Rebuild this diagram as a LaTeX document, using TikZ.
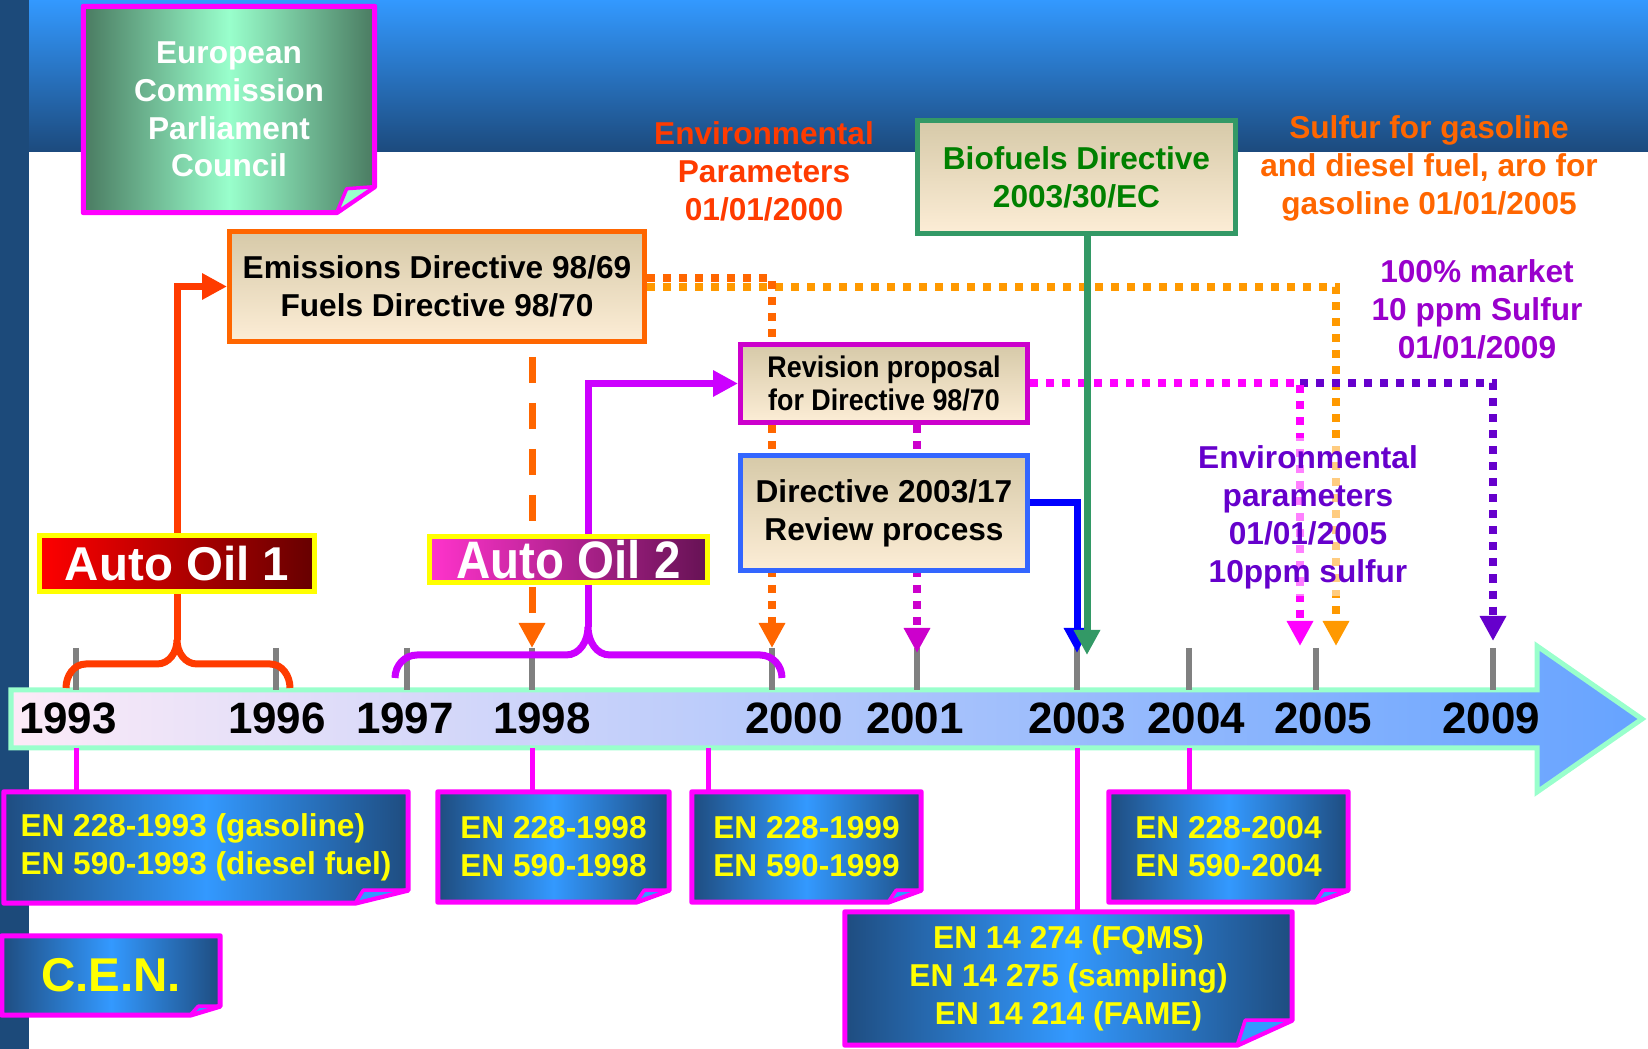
\documentclass[tikz,border=0pt]{standalone}
\usepackage{fontspec}
\setmainfont{Liberation Sans}
\newfontfamily\narrowfont[FakeStretch=0.9]{Liberation Sans}
\usepackage{xcolor}
\usepackage{tikz}
\usetikzlibrary{arrows.meta}
\definecolor{bandtop}{rgb}{0.20,0.60,1.00}
\definecolor{bandbot}{rgb}{0.11,0.29,0.49}
\definecolor{stripnavy}{rgb}{0.11,0.29,0.48}
\definecolor{cenblue}{rgb}{0.20,0.60,1.00}
\definecolor{cendark}{rgb}{0.12,0.30,0.50}
\definecolor{ecdark}{rgb}{0.29,0.48,0.38}
\definecolor{ecmint}{rgb}{0.60,1.00,0.80}
\definecolor{beigetop}{rgb}{0.84,0.79,0.66}
\definecolor{beigebot}{rgb}{0.99,0.93,0.84}
\definecolor{emisorange}{rgb}{1.00,0.40,0.00}
\definecolor{lightorange}{rgb}{1.00,0.60,0.00}
\definecolor{redorange}{rgb}{1.00,0.23,0.00}
\definecolor{pinkmag}{rgb}{1.00,0.00,1.00}
\definecolor{revmagenta}{rgb}{0.80,0.00,0.80}
\definecolor{dirblue}{rgb}{0.20,0.40,1.00}
\definecolor{lineblue}{rgb}{0.00,0.00,1.00}
\definecolor{biogreen}{rgb}{0.20,0.60,0.40}
\definecolor{biotext}{rgb}{0.00,0.50,0.00}
\definecolor{aotwo}{rgb}{0.80,0.00,1.00}
\definecolor{aoyellow}{rgb}{1.00,1.00,0.00}
\definecolor{envviolet}{rgb}{0.40,0.00,0.80}
\definecolor{mktpurple}{rgb}{0.60,0.00,0.80}
\definecolor{shaftleft}{rgb}{0.99,0.92,0.97}
\definecolor{shaftright}{rgb}{0.40,0.64,1.00}
\definecolor{shaftmint}{rgb}{0.60,1.00,0.80}
\definecolor{aoonel}{rgb}{1.00,0.00,0.00}
\definecolor{aooner}{rgb}{0.40,0.00,0.00}
\definecolor{aotwol}{rgb}{1.00,0.20,0.80}
\definecolor{aotwor}{rgb}{0.40,0.07,0.33}
\newcommand{\boxfont}{\fontsize{9}{10.8}\selectfont\bfseries}
\newcommand{\yearfont}{\fontsize{12.5}{14}\selectfont\bfseries}
\pgfdeclarelayer{bg}
\pgfdeclarelayer{lines}
\pgfdeclarelayer{frames}
\pgfsetlayers{bg,lines,frames,main}
\tikzset{
  beigebox/.style={draw,line width=0.05cm,top color=beigetop,bottom color=beigebot,inner sep=0pt,align=center,font=\boxfont},
  aobox/.style={draw=aoyellow,line width=0.05cm,inner sep=0pt,text=white},
  centext/.style={inner sep=0pt,text=aoyellow,align=center,font=\boxfont},
  cenframe/.style={draw=pinkmag,line width=0.05cm,line join=round,left color=cendark,right color=cendark,middle color=cenblue},
  ecframe/.style={draw=pinkmag,line width=0.05cm,line join=round,left color=ecdark,right color=ecdark,middle color=ecmint},
  foldtip/.style={draw=pinkmag,line width=0.035cm,line join=round,fill=cenblue},
  notetext/.style={inner sep=0pt,align=center,font=\boxfont},
  yeartext/.style={anchor=base,inner sep=0pt,font=\yearfont},
  yeartick/.style={draw=gray,line width=0.06cm},
  arrowtip/.style={-{Triangle[length=0.25cm,width=0.25cm]}},
  dotline/.style={line width=0.08cm,dash pattern=on 0.08cm off 0.08cm,arrowtip},
  cenlink/.style={draw=pinkmag,line width=0.05cm}
}

\begin{document}
\begin{tikzpicture}
\useasboundingbox (0,0) rectangle (16.48,-10.49);
\begin{pgfonlayer}{bg}
  \shade[top color=bandtop,bottom color=bandbot] (0.29,0) rectangle (16.48,-1.52);
  \fill[stripnavy] (0,0) rectangle (0.29,-10.49);
  % time axis
  \draw[draw=shaftmint,line width=0.05cm,left color=shaftleft,right color=shaftright]
    (0.11,-6.90) -- (15.37,-6.90) -- (15.37,-6.46) -- (16.42,-7.19) -- (15.37,-7.92) -- (15.37,-7.48) -- (0.11,-7.48) -- cycle;
  \foreach \yr/\tx in {1993/0.76,1996/2.76,1997/4.07,1998/5.32,2000/7.72,2001/9.17,2003/10.77,2004/11.89,2005/13.16,2009/14.93} {
    \coordinate (t\yr) at (\tx,-6.48);
    \coordinate (b\yr) at (\tx,-7.48);
    \draw[yeartick] (t\yr) -- (\tx,-6.90);
  }
  \coordinate (b1999) at (7.08,-7.48);
\end{pgfonlayer}

\foreach \yr/\lx in {1993/0.68,1996/2.77,1997/4.05,1998/5.42,2000/7.94,2001/9.15,2003/10.77,2004/11.96,2005/13.23,2009/14.91}
  \node[yeartext] (y\yr) at (\lx,-7.34) {\yr};

% legislation
\node[inner sep=0pt,minimum width=2.90cm,minimum height=2.05cm,align=center,text=white,font=\fontsize{9}{10.7}\selectfont\bfseries] (ec) at (2.29,-1.095) {European\\Commission\\Parliament\\Council};
\node[beigebox,draw=emisorange,minimum width=4.15cm,minimum height=1.10cm] (emis) at (4.37,-2.865) {Emissions Directive 98/69\\Fuels Directive 98/70};
\node[beigebox,draw=biogreen,text=biotext,minimum width=3.18cm,minimum height=1.13cm] (bio) at (10.765,-1.77) {Biofuels Directive\\2003/30/EC};
\node[beigebox,draw=revmagenta,minimum width=2.87cm,minimum height=0.78cm,font=\narrowfont\fontsize{8.5}{9.2}\selectfont\bfseries] (rev) at (8.84,-3.835) {Revision proposal\\for Directive 98/70};
\node[beigebox,draw=dirblue,minimum width=2.87cm,minimum height=1.15cm] (dir) at (8.84,-5.13) {Directive 2003/17\\Review process};
\node[aobox,left color=aoonel,right color=aooner,minimum width=2.75cm,minimum height=0.56cm,font=\fontsize{13.5}{15}\selectfont\bfseries] (ao1) at (1.77,-5.635) {Auto Oil 1};
\node[aobox,left color=aotwol,right color=aotwor,minimum width=2.78cm,minimum height=0.46cm,font=\narrowfont\fontsize{15}{16}\selectfont\bfseries] (ao2) at (5.685,-5.595) {Auto Oil 2};

\node[notetext,text=redorange] (env2000) at (7.64,-1.71) {Environmental\\Parameters\\01/01/2000};
\node[notetext,text=emisorange] (sulf2005) at (14.29,-1.68) {Sulfur for gasoline\\and diesel fuel, aro for\\gasoline 01/01/2005};
\node[notetext,text=mktpurple] (mkt2009) at (14.77,-3.095) {100\% market\\10 ppm Sulfur\\01/01/2009};
\node[notetext,text=envviolet,fill=white,fill opacity=0.5,text opacity=1,inner sep=2pt] (env2005) at (13.08,-5.17) {Environmental\\parameters\\01/01/2005\\10ppm sulfur};

% standards
\node[centext,minimum width=4.03cm,minimum height=1.10cm,align=left] (cen1) at (2.06,-8.475) {EN 228-1993 (gasoline)\\EN 590-1993 (diesel fuel)};
\node[centext,minimum width=2.30cm,minimum height=1.09cm] (cen2) at (5.535,-8.47) {EN 228-1998\\EN 590-1998};
\node[centext,minimum width=2.28cm,minimum height=1.09cm] (cen3) at (8.065,-8.47) {EN 228-1999\\EN 590-1999};
\node[centext,minimum width=2.38cm,minimum height=1.09cm] (cen4) at (12.285,-8.47) {EN 228-2004\\EN 590-2004};
\node[centext,minimum width=4.46cm,minimum height=1.32cm] (cen5) at (10.685,-9.785) {EN 14 274 (FQMS)\\EN 14 275 (sampling)\\EN 14 214 (FAME)};
\node[centext,minimum width=2.17cm,minimum height=0.78cm,font=\fontsize{13.5}{15}\selectfont\bfseries] (cen) at (1.11,-9.755) {C.E.N.};

\begin{pgfonlayer}{frames}
  \draw[ecframe] (ec.north west) -- (ec.north east) -- ([yshift=0.26cm]ec.south east) -- ([xshift=-0.38cm]ec.south east) -- (ec.south west) -- cycle;
  \draw[foldtip,fill=ecmint] ([xshift=-0.38cm]ec.south east) -- ([xshift=-0.28cm,yshift=0.24cm]ec.south east) -- ([yshift=0.26cm]ec.south east) -- cycle;
  \foreach \b/\fw/\fh in {cen1/0.53/0.13,cen2/0.33/0.12,cen3/0.33/0.12,cen4/0.33/0.12,cen5/0.55/0.25,cen/0.30/0.09} {
    \draw[cenframe] (\b.north west) -- (\b.north east) -- ([yshift=\fh cm]\b.south east) -- ([xshift=-\fw cm]\b.south east) -- (\b.south west) -- cycle;
    \draw[foldtip] ([xshift=-\fw cm]\b.south east) -- ([xshift=-\fw cm+0.08cm,yshift=\fh cm]\b.south east) -- ([yshift=\fh cm]\b.south east) -- cycle;
  }
\end{pgfonlayer}

\begin{pgfonlayer}{lines}
  % Auto Oil programmes
  \draw[redorange,line width=0.07cm] (0.66,-6.88) to[out=90,in=180] (0.86,-6.64) -- (1.57,-6.64) to[out=0,in=-90] (1.77,-6.40) coordinate (cusp1)
    to[out=-90,in=180] (1.97,-6.64) -- (2.70,-6.64) to[out=0,in=90] (2.90,-6.88);
  \draw[redorange,line width=0.07cm,arrowtip] (cusp1) |- (emis.west);
  \draw[aotwo,line width=0.07cm] (3.95,-6.78) to[out=90,in=180] (4.17,-6.55) -- (5.66,-6.55) to[out=0,in=-90] (5.88,-6.27) coordinate (cusp2)
    to[out=-90,in=180] (6.10,-6.55) -- (7.60,-6.55) to[out=0,in=90] (7.82,-6.78);
  \draw[aotwo,line width=0.07cm,arrowtip] (cusp2) |- (rev.west);
  % directives to the years
  \coordinate (o2005) at ([xshift=0.20cm,yshift=0.02cm]t2005);
  \coordinate (m2005) at ([xshift=-0.16cm,yshift=0.02cm]t2005);
  \coordinate (p2009) at ([yshift=0.07cm]t2009);
  \coordinate (d2003) at ([yshift=-0.05cm]t2003);
  \coordinate (g2003) at ([xshift=0.10cm,yshift=-0.07cm]t2003);
  \draw[emisorange,line width=0.07cm,dash pattern=on 0.26cm off 0.20cm,shorten <=0.13cm,arrowtip] (emis.south -| t1998) -- (t1998);
  \draw[dotline,lightorange] ([yshift=-0.005cm]emis.east) -| (o2005);
  \draw[dotline,emisorange] ([yshift=0.085cm]emis.east) -| (t2000);
  \draw[dotline,envviolet] (m2005 |- rev.east) -| (p2009);
  \draw[dotline,pinkmag] (rev.east) -| (m2005);
  \draw[dotline,revmagenta] (rev.south -| t2001) -- ([yshift=-0.05cm]t2001);
  \draw[lineblue,line width=0.07cm,arrowtip] ([yshift=0.10cm]dir.east) -| (d2003);
  \draw[biogreen,line width=0.07cm,arrowtip] (bio.south -| g2003) -- (g2003);
  % years to standards
  \draw[cenlink] (b1993) -- (b1993 |- cen1.north);
  \draw[cenlink] (b1998) -- (b1998 |- cen2.north);
  \draw[cenlink] (b1999) -- (b1999 |- cen3.north);
  \draw[cenlink] (b2003) -- (b2003 |- cen5.north);
  \draw[cenlink] (b2004) -- (b2004 |- cen4.north);
\end{pgfonlayer}
\end{tikzpicture}
\end{document}
